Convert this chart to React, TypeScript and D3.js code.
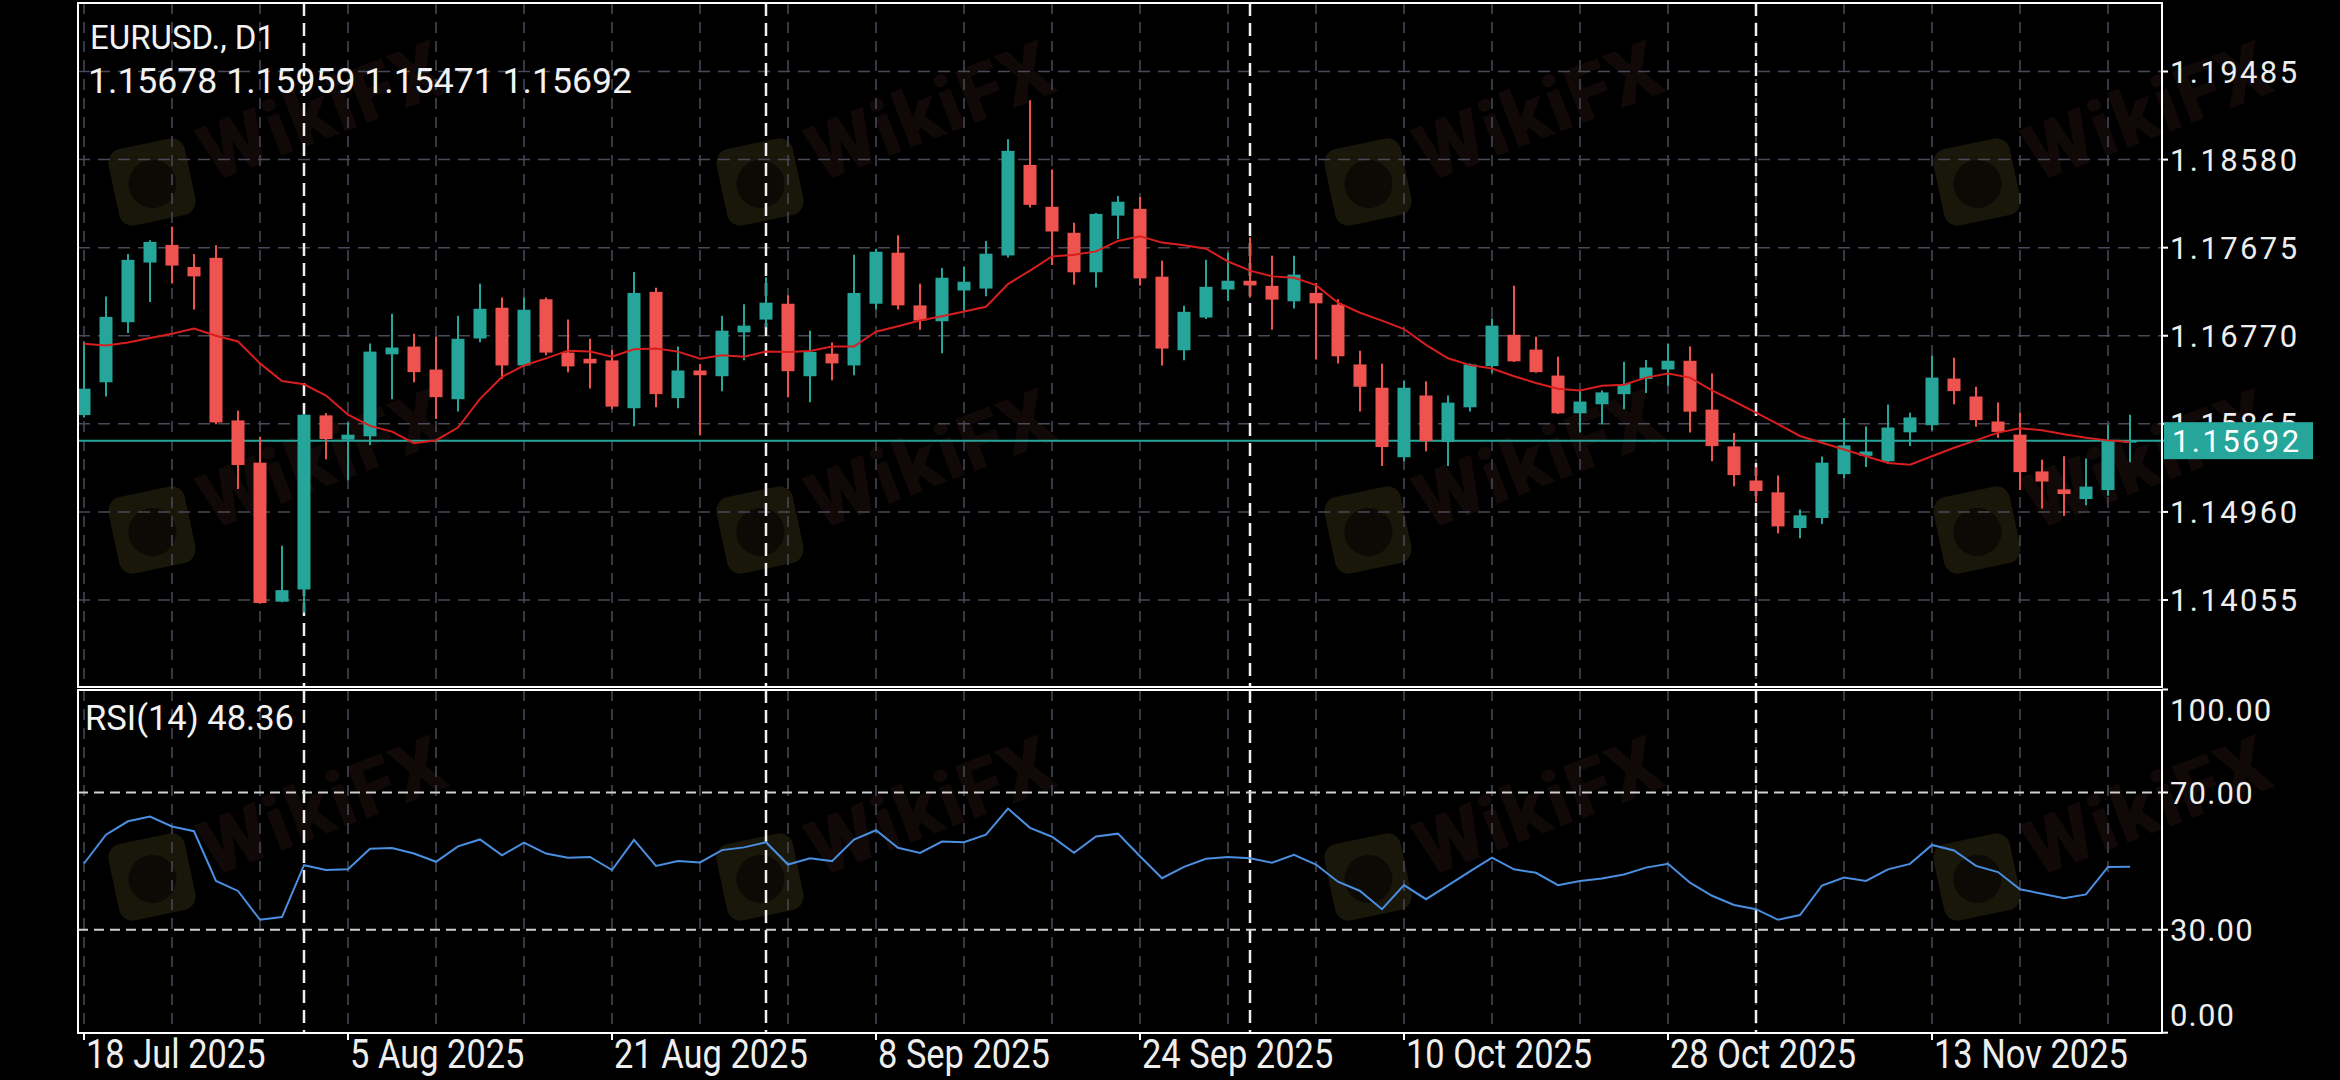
import * as d3 from "d3";
import * as React from "react";

// daily bars, 18 Jul 2025 .. 26 Nov 2025 (weekdays)
const opens = [1.15955, 1.16292, 1.16909, 1.17522, 1.17703, 1.17477, 1.17571, 1.159, 1.15466, 1.14038,
  1.14163, 1.15952, 1.15702, 1.15737, 1.16579, 1.16659, 1.16423, 1.16118, 1.16742, 1.17058,
  1.16465, 1.17145, 1.16597, 1.16534, 1.16517, 1.16025, 1.17221, 1.16129, 1.16413, 1.16354,
  1.16805, 1.16936, 1.17099, 1.16354, 1.16586, 1.16465, 1.17099, 1.17623, 1.17082, 1.16919,
  1.17235, 1.17255, 1.17595, 1.18525, 1.18095, 1.17828, 1.17422, 1.18004, 1.18074, 1.17377,
  1.16621, 1.16957, 1.17245, 1.17335, 1.17283, 1.17124, 1.1721, 1.17089, 1.16475, 1.16236,
  1.15522, 1.16156, 1.15678, 1.16035, 1.16458, 1.1678, 1.16628, 1.16361, 1.15973, 1.16066,
  1.1617, 1.16326, 1.16423, 1.16513, 1.16011, 1.15633, 1.15283, 1.15161, 1.14794, 1.14898,
  1.15348, 1.15536, 1.1548, 1.15778, 1.15851, 1.1633, 1.16146, 1.15889, 1.15754, 1.15376,
  1.15192, 1.15092, 1.15185, 1.15678];
const highs = [1.16711, 1.17172, 1.17609, 1.17751, 1.1789, 1.17609, 1.17699, 1.16, 1.15733, 1.14613,
  1.15966, 1.15976, 1.15879, 1.1669, 1.16995, 1.16791, 1.1676, 1.16975, 1.17304, 1.17162,
  1.17162, 1.17162, 1.16936, 1.16739, 1.16624, 1.17425, 1.17262, 1.16659, 1.16479, 1.16975,
  1.17093, 1.1737, 1.17186, 1.16822, 1.16701, 1.17602, 1.17665, 1.17803, 1.17304, 1.17467,
  1.17481, 1.17744, 1.18788, 1.1919, 1.18479, 1.17932, 1.18032, 1.18206, 1.18195, 1.1754,
  1.17079, 1.1755, 1.17623, 1.17782, 1.17592, 1.17592, 1.17311, 1.17145, 1.16617, 1.16482,
  1.16309, 1.16302, 1.16156, 1.16486, 1.16947, 1.17283, 1.1676, 1.16555, 1.16208, 1.16208,
  1.16503, 1.1652, 1.1669, 1.16659, 1.16382, 1.15771, 1.15418, 1.15335, 1.14984, 1.15529,
  1.15924, 1.15837, 1.16063, 1.15979, 1.16565, 1.16545, 1.16246, 1.16083, 1.15979, 1.15497,
  1.15532, 1.15508, 1.15855, 1.15959];
const lows = [1.15931, 1.16146, 1.16798, 1.17117, 1.17307, 1.1704, 1.15862, 1.15196, 1.14017, 1.14031,
  1.13927, 1.15501, 1.15286, 1.15647, 1.16118, 1.16292, 1.15914, 1.15993, 1.16704, 1.16326,
  1.16451, 1.16569, 1.16396, 1.16229, 1.16014, 1.15841, 1.16035, 1.16025, 1.15747, 1.16201,
  1.16517, 1.16857, 1.16139, 1.16087, 1.16312, 1.16364, 1.1704, 1.1704, 1.16832, 1.1659,
  1.17023, 1.17176, 1.17574, 1.18088, 1.17498, 1.17294, 1.17266, 1.17765, 1.17287, 1.16465,
  1.16517, 1.16943, 1.17127, 1.17162, 1.16832, 1.17051, 1.16527, 1.16486, 1.15993, 1.15432,
  1.1548, 1.15584, 1.15432, 1.15993, 1.16389, 1.165, 1.16389, 1.15966, 1.15775, 1.15862,
  1.16014, 1.16181, 1.16257, 1.15775, 1.1548, 1.15224, 1.15061, 1.14742, 1.1469, 1.14835,
  1.15307, 1.15421, 1.15473, 1.15636, 1.15799, 1.16066, 1.15834, 1.15723, 1.15185, 1.14995,
  1.14918, 1.15029, 1.15126, 1.15471];
const closes = [1.16226, 1.16964, 1.1755, 1.17734, 1.17491, 1.1738, 1.15879, 1.15442, 1.14024, 1.14156,
  1.15959, 1.15709, 1.15754, 1.16607, 1.16649, 1.16396, 1.16139, 1.16739, 1.17047, 1.16465,
  1.17037, 1.16597, 1.16455, 1.16486, 1.16042, 1.1721, 1.1617, 1.16413, 1.16364, 1.16822,
  1.16874, 1.1711, 1.16406, 1.16604, 1.16486, 1.1721, 1.17633, 1.17082, 1.16926, 1.17366,
  1.17325, 1.17613, 1.1867, 1.18115, 1.17841, 1.17422, 1.18022, 1.18147, 1.17359, 1.16638,
  1.17016, 1.17273, 1.17335, 1.17287, 1.17141, 1.17398, 1.17103, 1.16559, 1.16246, 1.15626,
  1.16236, 1.15688, 1.16083, 1.16475, 1.16874, 1.16507, 1.16396, 1.15973, 1.16094, 1.16188,
  1.16274, 1.16444, 1.16513, 1.1599, 1.15636, 1.15338, 1.15175, 1.14811, 1.14925, 1.15466,
  1.15643, 1.15581, 1.15827, 1.15931, 1.1634, 1.16201, 1.15903, 1.15782, 1.15369, 1.15272,
  1.15144, 1.1522, 1.15688, 1.15692];
const maValues = [1.16687, 1.16669, 1.16701, 1.16746, 1.16791, 1.16843, 1.1677, 1.16711, 1.16486, 1.16305,
  1.16271, 1.16156, 1.15959, 1.15844, 1.15785, 1.15667, 1.15695, 1.15827, 1.16122, 1.16347,
  1.16465, 1.16538, 1.16617, 1.16607, 1.16555, 1.16631, 1.16638, 1.16607, 1.16534, 1.16569,
  1.16555, 1.16607, 1.16604, 1.16614, 1.16659, 1.16659, 1.16812, 1.16867, 1.16926, 1.16971,
  1.1702, 1.17068, 1.17301, 1.17439, 1.17585, 1.17602, 1.17637, 1.17744, 1.17793, 1.17727,
  1.17699, 1.17665, 1.17533, 1.17439, 1.1738, 1.17366, 1.1729, 1.1711, 1.17006, 1.16926,
  1.16839, 1.16676, 1.16538, 1.16468, 1.16434, 1.16354, 1.16285, 1.16226, 1.16208, 1.16257,
  1.16267, 1.1634, 1.16382, 1.1634, 1.16208, 1.16097, 1.15979, 1.15862, 1.1574, 1.15671,
  1.15601, 1.15532, 1.15463, 1.15445, 1.15532, 1.15619, 1.15695, 1.15775, 1.1582, 1.15799,
  1.15758, 1.15723, 1.15695, 1.15678];
const rsiValues = [49.3, 57.7, 61.6, 63.0, 60.1, 58.7, 44.2, 41.3, 32.9, 33.7,
  48.8, 47.4, 47.6, 53.6, 53.8, 52.2, 49.8, 54.3, 56.3, 51.7,
  55.4, 52.2, 51.0, 51.2, 47.4, 56.2, 48.6, 50.0, 49.6, 53.2,
  54.0, 55.5, 49.0, 50.8, 50.0, 56.3, 59.0, 53.9, 52.4, 55.7,
  55.5, 57.7, 65.3, 59.7, 57.1, 52.4, 57.2, 58.0, 51.4, 45.0,
  48.3, 50.7, 51.2, 50.8, 49.5, 51.8, 49.0, 44.0, 41.3, 36.0,
  43.0, 38.9, 42.9, 47.0, 51.0, 47.6, 46.6, 43.0, 44.2, 44.9,
  46.1, 48.1, 49.2, 43.7, 39.9, 37.2, 36.0, 32.9, 34.3, 42.9,
  45.2, 44.2, 47.6, 49.2, 54.7, 53.1, 48.6, 46.8, 41.8, 40.5,
  39.2, 40.3, 48.3, 48.36];

const priceTicks = [1.14055, 1.1496, 1.15865, 1.1677, 1.17675, 1.1858, 1.19485];
const rsiTicks = [100, 70, 30, 0];
const rsiLevels = [70, 30];
const dateLabels = ["18 Jul 2025", "5 Aug 2025", "21 Aug 2025", "8 Sep 2025", "24 Sep 2025", "10 Oct 2025", "28 Oct 2025", "13 Nov 2025"];
const dateBars = [0, 12, 24, 36, 48, 60, 72, 84];
const monthStartBars = [10, 31, 53, 76];
const lastPrice = 1.15692;
const headerTitle = "EURUSD., D1";
const headerOHLC = "1.15678 1.15959 1.15471 1.15692";
const rsiTitle = "RSI(14) 48.36";

const W = 2340, H = 1080;
const left = 78, right = 2162;
const mainTop = 3, mainBottom = 687;
const rsiTop = 690, rsiBottom = 1033;

const UP = "#26a69a";
const DOWN = "#ef5350";
const GRID = "#4a4a5a";
const FONT = "Roboto, 'Noto Sans', sans-serif";

const Watermark: React.FC<{ cx: number; cy: number }> = ({ cx, cy }) => (
  <g transform={`translate(${cx},${cy})`}>
    <g transform="rotate(-12)">
      <rect x={-39} y={-39} width={78} height={78} rx={14} fill="#19160a" />
      <circle cx={0} cy={2} r={24} fill="#0c0a05" />
    </g>
    <text x={56} y={22} transform="rotate(-21)" fontFamily={FONT} fontWeight={900}
      fontSize={78} fill="#110907" letterSpacing={2}>WikiFX</text>
  </g>
);

export default function App() {
  const x = d3.scaleLinear().domain([0, 93]).range([84, 2130]);
  const y = d3.scaleLinear().domain([1.14055, 1.19485]).range([600, 71.5]);
  const yr = d3.scaleLinear().domain([0, 100]).range([1032.7, 689.5]);
  const bodyW = 13;

  const maLine = d3.line<number>().x((_, i) => x(i)).y(d => y(d))(maValues) || "";
  const rsiLine = d3.line<number>().x((_, i) => x(i)).y(d => yr(d))(rsiValues) || "";
  const gridBars = d3.range(0, opens.length, 4);

  const wmXs = [152, 760, 1368, 1977];
  const wmYs = [182, 530, 877];

  return (
    <svg width={W} height={H} style={{ position: "absolute", left: 0, top: 0, background: "#000" }}>
      <rect width={W} height={H} fill="#000" />

      {/* watermarks */}
      {wmYs.map(wy => wmXs.map(wx => <Watermark key={`${wx}-${wy}`} cx={wx} cy={wy} />))}

      {/* grid */}
      {priceTicks.map(t => (
        <line key={t} x1={left} x2={right} y1={y(t)} y2={y(t)} stroke={GRID} strokeWidth={1.5} strokeDasharray="12 8" />
      ))}
      {gridBars.map(i => (
        <g key={i}>
          <line x1={x(i)} x2={x(i)} y1={mainTop} y2={mainBottom} stroke={GRID} strokeWidth={1.5} strokeDasharray="11 8" />
          <line x1={x(i)} x2={x(i)} y1={rsiTop} y2={rsiBottom} stroke={GRID} strokeWidth={1.5} strokeDasharray="11 8" />
        </g>
      ))}
      {monthStartBars.map(i => (
        <g key={i}>
          <line x1={x(i)} x2={x(i)} y1={mainTop} y2={mainBottom} stroke="#f0f0f0" strokeWidth={2.5} strokeDasharray="13 7" />
          <line x1={x(i)} x2={x(i)} y1={rsiTop} y2={rsiBottom} stroke="#f0f0f0" strokeWidth={2.5} strokeDasharray="13 7" />
        </g>
      ))}

      {/* current price line */}
      <line x1={left} x2={right + 4} y1={y(lastPrice)} y2={y(lastPrice)} stroke={UP} strokeWidth={2} />

      {/* candles */}
      {opens.map((o, i) => {
        const c = closes[i];
        const col = c >= o ? UP : DOWN;
        const top = y(Math.max(o, c));
        const h = Math.max(2, y(Math.min(o, c)) - top);
        return (
          <g key={i}>
            <line x1={x(i)} x2={x(i)} y1={y(highs[i])} y2={y(lows[i])} stroke={col} strokeWidth={2} />
            <rect x={x(i) - bodyW / 2} y={top} width={bodyW} height={h} fill={col} />
          </g>
        );
      })}

      {/* moving average */}
      <path d={maLine} fill="none" stroke="#d81e1e" strokeWidth={2} />

      {/* RSI */}
      {rsiLevels.map(l => (
        <line key={l} x1={left} x2={right} y1={yr(l)} y2={yr(l)} stroke="#d0d0d0" strokeWidth={2} strokeDasharray="10 6" />
      ))}
      <path d={rsiLine} fill="none" stroke="#4a8fe0" strokeWidth={2} />

      {/* panel borders */}
      <rect x={left} y={mainTop} width={right - left} height={mainBottom - mainTop} fill="none" stroke="#fff" strokeWidth={2} />
      <rect x={left} y={rsiTop} width={right - left} height={rsiBottom - rsiTop} fill="none" stroke="#fff" strokeWidth={2} />

      {/* price axis */}
      {priceTicks.map(t => (
        <g key={t}>
          <line x1={right} x2={right + 6} y1={y(t)} y2={y(t)} stroke="#fff" strokeWidth={2} />
          <text x={2170} y={y(t)} dy="0.36em" fill="#eeeeee" fontFamily={FONT} fontSize={31} letterSpacing={2.4}>
            {d3.format(".5f")(t)}
          </text>
        </g>
      ))}
      <rect x={2164} y={y(lastPrice) - 18.5} width={149} height={37} fill={UP} />
      <text x={2172} y={y(lastPrice)} dy="0.36em" fill="#fff" fontFamily={FONT} fontSize={31} letterSpacing={2.4}>
        {d3.format(".5f")(lastPrice)}
      </text>

      {/* rsi axis */}
      {rsiTicks.map(t => {
        const ty = t === 100 ? yr(t) + 20 : t === 0 ? yr(t) - 18 : yr(t);
        return (
          <g key={t}>
            <line x1={right} x2={right + 6} y1={yr(t)} y2={yr(t)} stroke="#fff" strokeWidth={2} />
            <text x={2170} y={ty} dy="0.36em" fill="#eeeeee" fontFamily={FONT} fontSize={31} letterSpacing={1.2}>
              {d3.format(".2f")(t)}
            </text>
          </g>
        );
      })}

      {/* date axis */}
      {dateBars.map((b, k) => (
        <g key={b}>
          <line x1={x(b)} x2={x(b)} y1={rsiBottom} y2={rsiBottom + 7} stroke="#fff" strokeWidth={2} />
          <text transform={`translate(${x(b) + 2},1068) scale(0.84,1)`} fill="#eeeeee" fontFamily={FONT} fontSize={41}>
            {dateLabels[k]}
          </text>
        </g>
      ))}

      {/* headers */}
      <text x={90} y={49} fill="#f2f2f2" fontFamily={FONT} fontSize={33}>{headerTitle}</text>
      <text x={88} y={93} fill="#f2f2f2" fontFamily={FONT} fontSize={35.6}>{headerOHLC}</text>
      <text x={85} y={730} fill="#f2f2f2" fontFamily={FONT} fontSize={34.5}>{rsiTitle}</text>
    </svg>
  );
}
